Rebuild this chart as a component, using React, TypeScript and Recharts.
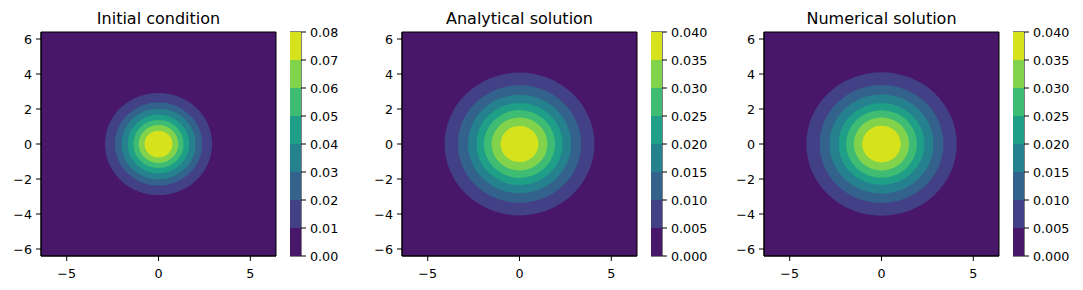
import React from 'react';
import { ScatterChart, BarChart, Bar, XAxis, YAxis, ReferenceArea } from 'recharts';

const FONT = 'DejaVu Sans';
const limit = 6.4;
const xTicks = [-5, 0, 5];
const yTicks = [-6, -4, -2, 0, 2, 4, 6];

const initialLevels = [0, 0.01, 0.02, 0.03, 0.04, 0.05, 0.06, 0.07, 0.08];
const solutionLevels = [0, 0.005, 0.01, 0.015, 0.02, 0.025, 0.03, 0.035, 0.04];

// radius where the field crosses levels[1..7]
const initialRadii = [2.92, 2.38, 2.02, 1.68, 1.37, 1.08, 0.76];
const analyticalRadii = [4.08, 3.36, 2.81, 2.35, 1.94, 1.52, 1.03];
const numericalRadii = [4.1, 3.37, 2.83, 2.34, 1.93, 1.51, 1.05];

const viridis8 = ['#481769', '#424086', '#33628d', '#26818e', '#1f9f88', '#3fbc73', '#82d34c', '#d6e21c'];

const minus = (v: number) => String(v).replace('-', '\u2212');
const tickStyle = { fontSize: 12.7, fill: '#000', fontFamily: FONT };

const disk = (fill: string) => (p: any) => (
  <ellipse
    cx={p.x + p.width / 2}
    cy={p.y + p.height / 2}
    rx={p.width / 2}
    ry={p.height / 2}
    fill={fill}
  />
);

interface PanelProps {
  title: string;
  levels: number[];
  radii: number[];
  decimals: number;
  plotLeft: number;
  cbLeft: number;
}

function Panel({ title, levels, radii, decimals, plotLeft, cbLeft }: PanelProps) {
  const top = levels[levels.length - 1];
  const cbRow: Record<string, number | string> = { name: 'cb' };
  levels.slice(1).forEach((v, i) => { cbRow[`b${i}`] = v - levels[i]; });

  return (
    <>
      <div style={{
        position: 'absolute', left: plotLeft, top: 11, width: 235, textAlign: 'center',
        fontSize: 16, lineHeight: '16px', fontFamily: FONT, color: '#000', whiteSpace: 'nowrap',
      }}>{title}</div>

      <div style={{ position: 'absolute', left: plotLeft - 40, top: 0 }}>
        <ScatterChart width={280} height={290} margin={{ top: 32, right: 5, bottom: 4, left: 0 }}>
          <XAxis type="number" dataKey="x" domain={[-limit, limit]} ticks={xTicks} allowDataOverflow
            height={30} tickSize={5} tickMargin={8} tick={tickStyle} tickFormatter={minus}
            axisLine={{ stroke: '#000' }} tickLine={{ stroke: '#000' }} />
          <YAxis type="number" dataKey="y" domain={[-limit, limit]} ticks={yTicks} allowDataOverflow
            width={40} tickSize={5} tickMargin={4} tick={tickStyle} tickFormatter={minus}
            axisLine={{ stroke: '#000' }} tickLine={{ stroke: '#000' }} interval={0} />
          <ReferenceArea x1={-limit} x2={limit} y1={-limit} y2={limit} fill={viridis8[0]}
            fillOpacity={1} stroke="none" ifOverflow="visible" />
          {radii.map((r, i) => (
            <ReferenceArea key={i} x1={-r} x2={r} y1={-r} y2={r} ifOverflow="visible"
              shape={disk(viridis8[i + 1])} />
          ))}
          <ReferenceArea x1={-limit} x2={limit} y1={-limit} y2={limit} fill="none"
            stroke="#000" strokeWidth={1} ifOverflow="visible" />
        </ScatterChart>
      </div>

      <div style={{ position: 'absolute', left: cbLeft, top: 0 }}>
        <BarChart width={61} height={290} data={[cbRow]} barCategoryGap={0} barGap={0}
          margin={{ top: 32, right: 0, bottom: 34, left: 0 }}>
          <XAxis dataKey="name" hide />
          <YAxis orientation="right" type="number" domain={[0, top]} ticks={levels} allowDataOverflow
            width={50} tickSize={5} tickMargin={4} tick={tickStyle} interval={0}
            tickFormatter={(v: number) => v.toFixed(decimals)}
            axisLine={false} tickLine={{ stroke: '#000' }} />
          {levels.slice(1).map((_, i) => (
            <Bar key={i} dataKey={`b${i}`} stackId="cb" fill={viridis8[i]} isAnimationActive={false} />
          ))}
          <ReferenceArea y1={0} y2={top} fill="none" stroke="#000" strokeWidth={1} ifOverflow="visible" />
        </BarChart>
      </div>
    </>
  );
}

export default function App() {
  return (
    <div style={{ position: 'absolute', left: 0, top: 0, width: 1083, height: 290, background: '#fff' }}>
      <Panel title="Initial condition" levels={initialLevels} radii={initialRadii} decimals={2}
        plotLeft={41} cbLeft={290} />
      <Panel title="Analytical solution" levels={solutionLevels} radii={analyticalRadii} decimals={3}
        plotLeft={402} cbLeft={651} />
      <Panel title="Numerical solution" levels={solutionLevels} radii={numericalRadii} decimals={3}
        plotLeft={764} cbLeft={1013} />
    </div>
  );
}
